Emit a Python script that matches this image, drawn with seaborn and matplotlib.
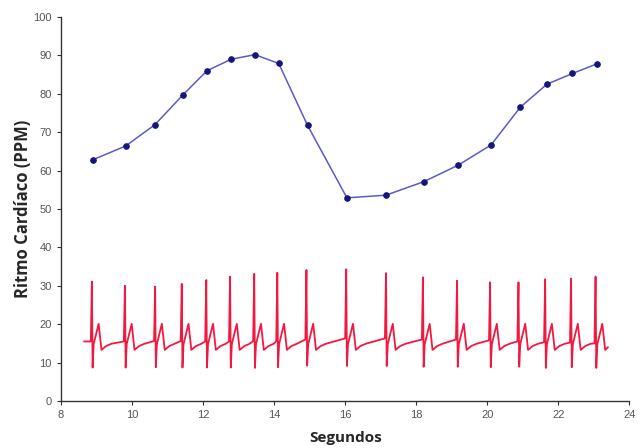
import numpy as np
import pandas as pd
import seaborn as sns
import matplotlib
matplotlib.use('Agg')
import matplotlib.pyplot as plt

# Frecuencia cardíaca (puntos azules)
segundos = [8.89, 9.82, 10.65, 11.43, 12.11, 12.79, 13.46, 14.13, 14.94,
            16.05, 17.15, 18.21, 19.18, 20.11, 20.93, 21.68, 22.40, 23.09]
ppm = [62.8, 66.4, 72.0, 79.7, 86.0, 89.0, 90.2, 87.9, 71.8,
       52.9, 53.6, 57.1, 61.4, 66.7, 76.5, 82.5, 85.3, 87.8]

# ECG: tiempo de cada onda R, altura de R, profundidad de S y linea base previa
r_tiempo = [8.87, 9.80, 10.65, 11.40, 12.09, 12.76, 13.44, 14.09, 14.91,
            16.03, 17.15, 18.19, 19.15, 20.08, 20.88, 21.63, 22.36, 23.05]
r_alto = [31.1, 30.0, 29.8, 30.5, 31.5, 32.4, 33.1, 33.4, 34.1,
          34.3, 33.3, 32.2, 31.3, 30.9, 30.9, 31.7, 31.9, 32.4]
s_bajo = [8.7, 8.7, 8.8, 8.7, 8.7, 8.7, 8.6, 8.8, 9.2,
          9.1, 9.1, 8.9, 8.9, 8.8, 8.9, 8.6, 8.8, 8.6]
base_pre = [15.5, 15.5, 15.6, 15.6, 15.5, 15.5, 15.6, 15.6, 16.0,
            16.3, 16.3, 16.0, 16.0, 15.8, 15.5, 15.3, 15.2, 15.0]
# forma del latido despues de S (desfase en s, valor)
tras_s_desfase = [0.05, 0.19, 0.27, 0.40, 0.55]
tras_s_valor = [14.8, 20.1, 13.3, 14.3, 14.9]
ecg_inicio = (8.65, 15.5)
ecg_fin = (23.40, 14.0)

t, v = [ecg_inicio[0]], [ecg_inicio[1]]
for i in range(len(r_tiempo)):
    rt = r_tiempo[i]
    t += [rt - 0.03, rt, rt + 0.02]
    v += [base_pre[i], r_alto[i], s_bajo[i]]
    for d, val in zip(tras_s_desfase, tras_s_valor):
        if i == len(r_tiempo) - 1 and d > 0.3:
            break
        t.append(rt + d)
        v.append(val)
t.append(ecg_fin[0])
v.append(ecg_fin[1])

ecg = pd.DataFrame({'Segundos': t, 'valor': v})
ritmo = pd.DataFrame({'Segundos': segundos, 'PPM': ppm})

sns.set_style('ticks')
plt.rcParams['font.family'] = ['Liberation Sans', 'DejaVu Sans']

fig = plt.figure(figsize=(6.4, 4.48), dpi=100)
ax = fig.add_axes([0.0953, 0.105, 0.888, 0.857])

sns.lineplot(data=ecg, x='Segundos', y='valor', color='#f2183f', linewidth=1.3,
             sort=False, ax=ax)
sns.lineplot(data=ritmo, x='Segundos', y='PPM', color='#5a5ac8', linewidth=1.1,
             marker='o', markersize=4, markerfacecolor='#16167a',
             markeredgecolor='#16167a', ax=ax)

ax.set_xlim(8, 24)
ax.set_ylim(0, 100)
ax.set_xticks(range(8, 25, 2))
ax.set_yticks(range(0, 101, 10))
ax.tick_params(axis='both', labelsize=8, colors='#333333', labelcolor='#555555',
               length=3, width=0.8)
for s in ['top', 'right']:
    ax.spines[s].set_visible(False)
for s in ['left', 'bottom']:
    ax.spines[s].set_color('#333333')
    ax.spines[s].set_linewidth(1.0)

ax.set_ylabel('Ritmo Cardíaco (PPM)', fontsize=12, fontweight='bold',
              family=['Open Sans', 'DejaVu Sans'], labelpad=1)
ax.set_xlabel('Segundos', fontsize=11, fontweight='bold',
              family=['Open Sans', 'DejaVu Sans'], labelpad=8)

fig.savefig('out.png', dpi=100)
